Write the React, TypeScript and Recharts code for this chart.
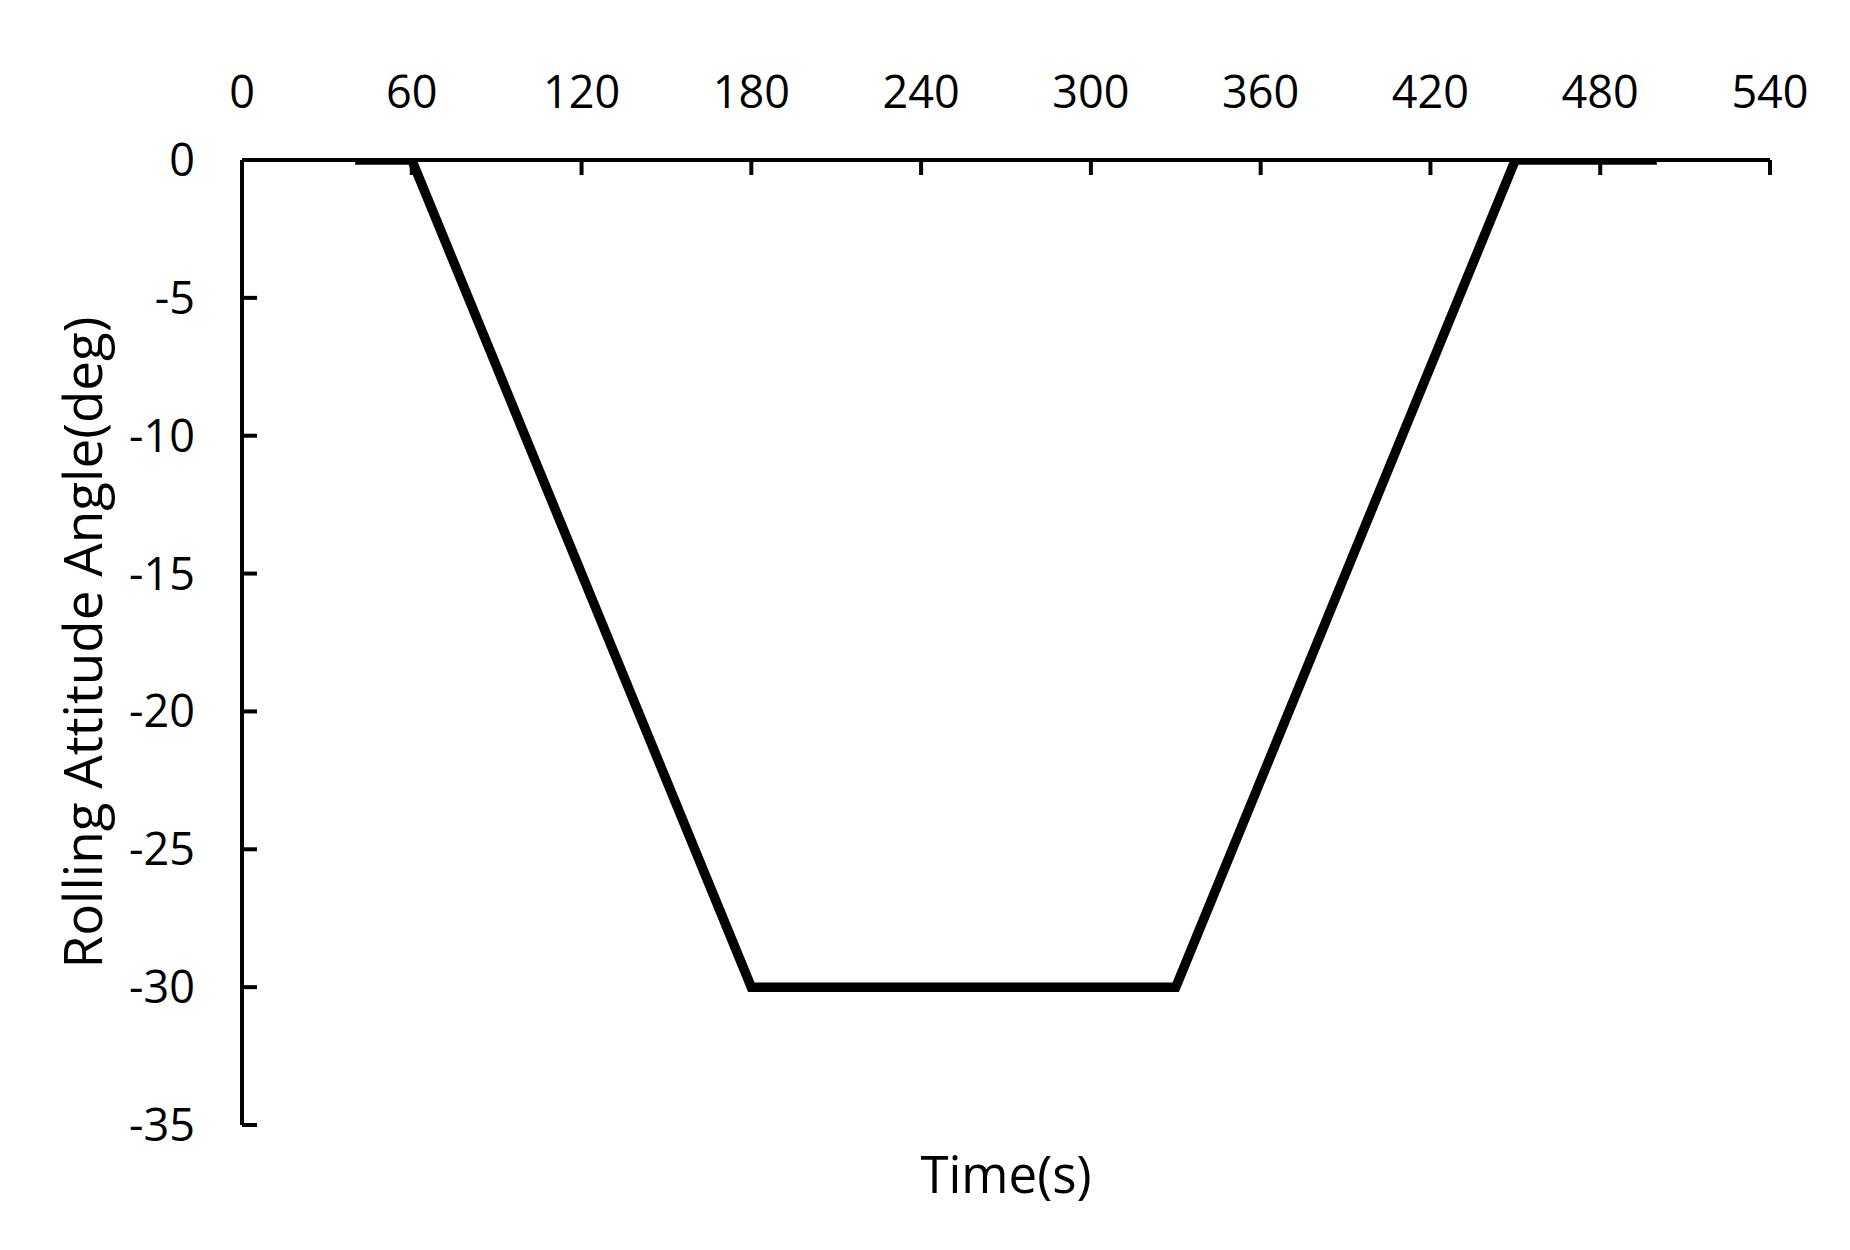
import React from 'react';
import { LineChart, Line, XAxis, YAxis, Label } from 'recharts';

const timeSec = [40, 60, 180, 330, 450, 500];
const rollDeg = [0, 0, -30, -30, 0, 0];
const xTicks = [0, 60, 120, 180, 240, 300, 360, 420, 480, 540];
const yTicks = [0, -5, -10, -15, -20, -25, -30, -35];

const chartData = timeSec.map((t, i) => ({ t, roll: rollDeg[i] }));

const FONT = '"Open Sans", "Noto Sans", sans-serif';

const YTitle = ({ viewBox }: any) => {
  const cx = 81;
  const cy = viewBox.y + viewBox.height / 2;
  return (
    <text
      x={cx}
      y={cy}
      transform={`rotate(-90, ${cx}, ${cy})`}
      textAnchor="middle"
      dominantBaseline="central"
      fontFamily={FONT}
      fontSize={53}
      fill="#000"
    >
      Rolling Attitude Angle(deg)
    </text>
  );
};

const XTitle = ({ viewBox }: any) => {
  const cx = viewBox.x + viewBox.width / 2;
  return (
    <text x={cx} y={1193} textAnchor="middle" fontFamily={FONT} fontSize={51} fill="#000">
      Time(s)
    </text>
  );
};

const App: React.FC = () => {
  const tickStyle = { fill: '#000', fontSize: 45, fontFamily: FONT };
  return (
    <div style={{ position: 'absolute', left: 0, top: 0, width: 1850, height: 1250, background: '#fff' }}>
      <LineChart width={1850} height={1250} data={chartData} margin={{ top: 0, left: 0, right: 80, bottom: 0 }}>
        <XAxis
          xAxisId="top"
          orientation="top"
          dataKey="t"
          type="number"
          domain={[0, 540]}
          ticks={xTicks}
          height={160}
          tick={tickStyle}
          tickSize={-15}
          tickMargin={67}
          axisLine={{ stroke: '#000', strokeWidth: 4 }}
          tickLine={{ stroke: '#000', strokeWidth: 4 }}
          interval={0}
        />
        <XAxis
          xAxisId="bottom"
          orientation="bottom"
          dataKey="t"
          type="number"
          domain={[0, 540]}
          height={125}
          tick={false}
          axisLine={false}
          tickLine={false}
        >
          <Label content={<XTitle />} />
        </XAxis>
        <YAxis
          dataKey="roll"
          type="number"
          domain={[-35, 0]}
          ticks={yTicks}
          allowDataOverflow
          width={242}
          tick={tickStyle}
          tickSize={-15}
          tickMargin={62}
          axisLine={{ stroke: '#000', strokeWidth: 4 }}
          tickLine={{ stroke: '#000', strokeWidth: 4 }}
          interval={0}
        >
          <Label content={<YTitle />} />
        </YAxis>
        <Line
          xAxisId="top"
          dataKey="roll"
          type="linear"
          stroke="#000"
          strokeWidth={9.5}
          strokeLinejoin="miter"
          dot={false}
          isAnimationActive={false}
        />
      </LineChart>
    </div>
  );
};

export default App;
